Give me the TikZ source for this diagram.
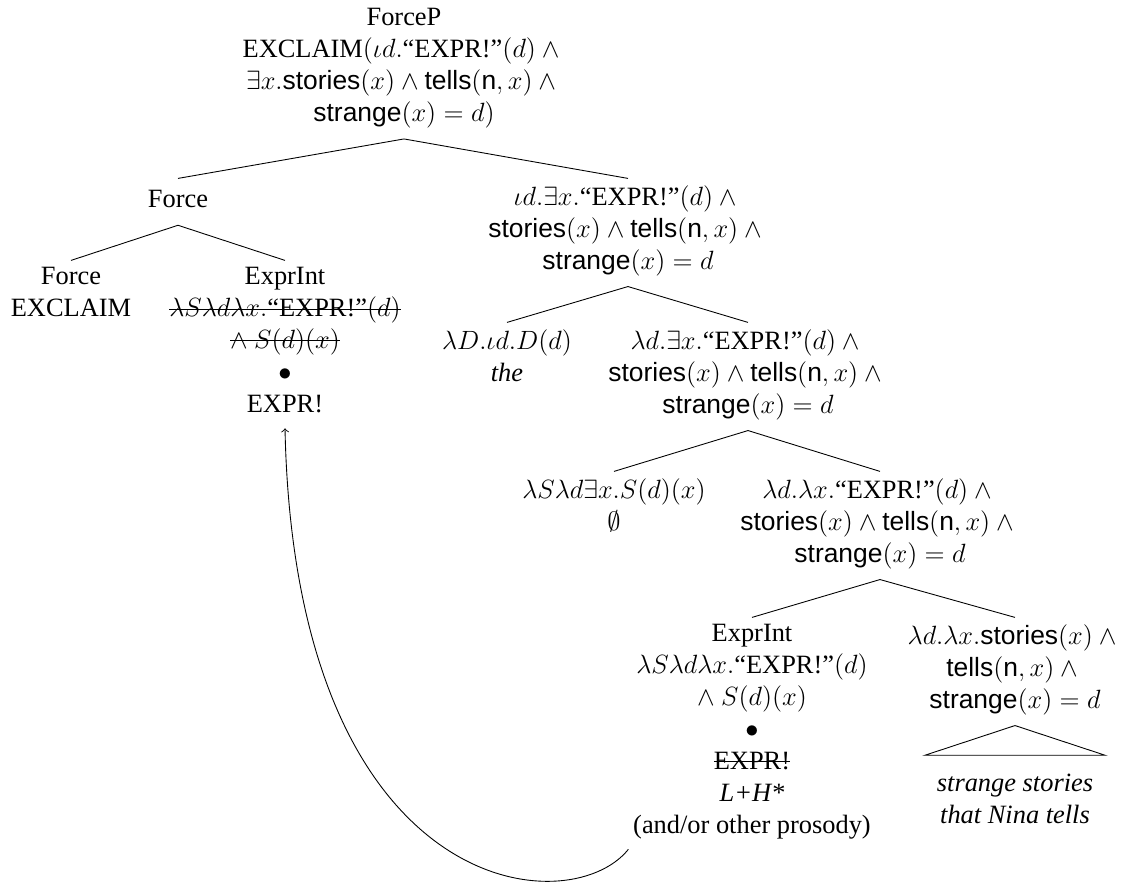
\documentclass[tikz,border=0pt]{standalone}
\usepackage{amsmath}
\usepackage[no-math]{fontspec}
\setmainfont{Liberation Serif}
\setsansfont{Liberation Sans}

% horizontal strike-through for deleted material
\newsavebox{\strkbox}
\newcommand{\strk}[1]{\sbox{\strkbox}{#1}%
  \rlap{\rule[0.27em]{\wd\strkbox}{0.45pt}}\usebox{\strkbox}}

\tikzset{
  lbl/.style={align=center, inner sep=0pt, anchor=north,
    font=\fontsize{12}{14.5}\selectfont, execute at begin node=\strut},
  branch/.style={line width=0.4pt},
}

\begin{document}
\begin{tikzpicture}[x=0.4545pt,y=-0.4545pt]
\useasboundingbox (0,0) rectangle (1127,888);

% root
\node[lbl] (forceP) at (404,8) {ForceP\\
  EXCLAIM$(\iota d.$“EXPR!”$(d)\wedge{}$\\
  $\exists x.\textsf{stories}(x)\wedge\textsf{tells}(\textsf{n},x)\wedge{}$\\
  $\textsf{strange}(x)=d)$};

% first level
\node[lbl] (force1) at (178,185) {Force};
\node[lbl] (iota) at (628,185) {$\iota d.\exists x.$“EXPR!”$(d)\wedge{}$\\
  $\textsf{stories}(x)\wedge\textsf{tells}(\textsf{n},x)\wedge{}$\\
  $\textsf{strange}(x)=d$};

% Force head and the moved ExprInt
\node[lbl] (forceH) at (71,267) {Force\\ EXCLAIM};
\node[lbl] (exprL) at (285,267) {ExprInt\\
  \strk{$\lambda S\lambda d\lambda x.$“EXPR!”$(d)$}\\
  \strk{$\wedge$ $S(d)(x)$}\\
  $\bullet$\\
  EXPR!};

% determiner and its sister
\node[lbl] (theD) at (507,329) {$\lambda D.\iota d.D(d)$\\ \textit{the}};
\node[lbl] (lamA) at (748,329) {$\lambda d.\exists x.$“EXPR!”$(d)\wedge{}$\\
  $\textsf{stories}(x)\wedge\textsf{tells}(\textsf{n},x)\wedge{}$\\
  $\textsf{strange}(x)=d$};

% existential closure and its sister
\node[lbl] (lamS) at (614,478) {$\lambda S\lambda d\exists x.S(d)(x)$\\ $\emptyset$};
\node[lbl] (lamB) at (880,478) {$\lambda d.\lambda x.$“EXPR!”$(d)\wedge{}$\\
  $\textsf{stories}(x)\wedge\textsf{tells}(\textsf{n},x)\wedge{}$\\
  $\textsf{strange}(x)=d$};

% base-generated ExprInt and the NP
\node[lbl] (exprR) at (752,624) {ExprInt\\
  $\lambda S\lambda d\lambda x.$“EXPR!”$(d)$\\
  $\wedge$ $S(d)(x)$\\
  $\bullet$\\
  \strk{EXPR!}\\
  \textit{L+H*}\\
  (and/or other prosody)};
\node[lbl] (lamC) at (1015,624) {$\lambda d.\lambda x.\textsf{stories}(x)\wedge{}$\\
  $\textsf{tells}(\textsf{n},x)\wedge{}$\\
  $\textsf{strange}(x)=d$};
\node[lbl] (leaf) at (1015,774) {\textit{strange stories}\\ \textit{that Nina tells}};

% branches
\foreach \p/\c in {forceP/force1, forceP/iota, force1/forceH, force1/exprL,
                   iota/theD, iota/lamA, lamA/lamS, lamA/lamB,
                   lamB/exprR, lamB/lamC}
  \draw[branch] ([yshift=-3.4pt]\p.south) -- ([yshift=3pt]\c.north);

% roof over the unanalysed NP
\draw[branch] ([yshift=-3.4pt]lamC.south)
  -- ([xshift=-41pt,yshift=8.5pt]leaf.north)
  -- ([xshift=41pt,yshift=8.5pt]leaf.north) -- cycle;

% movement arrow
\draw[branch,->] ([xshift=-2pt,yshift=-2.8pt]exprR.south west)
  .. controls +(-60,75) and +(10,470) .. ([yshift=-2.7pt]exprL.south);
\end{tikzpicture}
\end{document}
